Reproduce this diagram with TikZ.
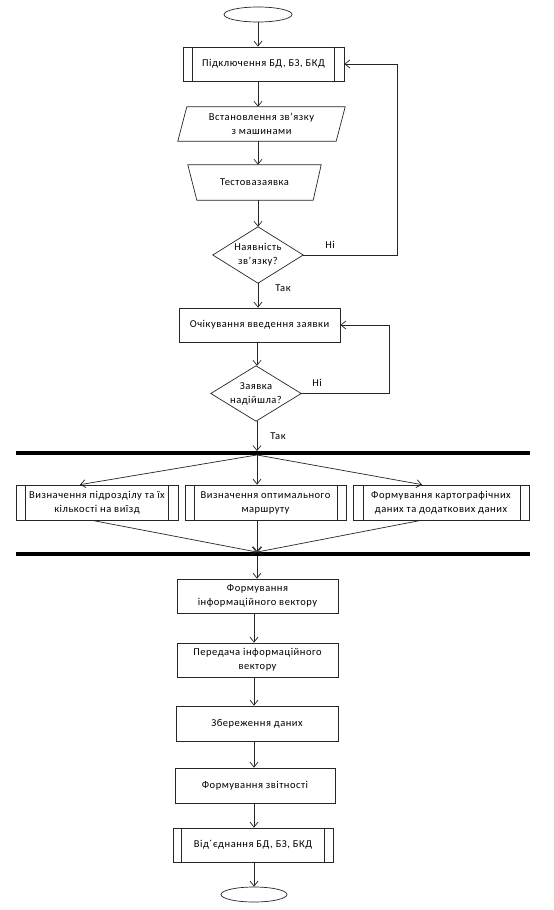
\documentclass[tikz,border=0pt]{standalone}
\usepackage{fontspec}
\setmainfont{Carlito}[LetterSpace=5]
\usetikzlibrary{arrows.meta,shapes.geometric,calc}
\begin{document}
\begin{tikzpicture}[x=1pt,y=-1pt,
  ln/.style={line width=0.7pt, draw=black!85},
  arr/.style={ln,-{Straight Barb[length=5pt,width=8pt,line width=0.7pt]}},
  tfont/.style={font=\fontsize{10.5}{14}\selectfont},
  box/.style={ln, draw, minimum width=#1, minimum height=34, inner sep=1pt, align=center, tfont},
  box/.default=161,
  shp/.style n args={2}{minimum width=#1, minimum height=#2, inner sep=0pt, align=center, tfont},
  bar/.style={fill=black, minimum width=514, minimum height=3.5, inner sep=0pt},
  lbl/.style={inner sep=0pt, tfont}
]
\useasboundingbox[fill=white] (0,0) rectangle (554,910);
\coordinate (ax) at (258,0);
\coordinate (ay) at (257,0);
\coordinate (az) at (254,0);

% top part
\node (e1) [ellipse, ln, draw, minimum width=68, minimum height=15, inner sep=0pt] at (258,14.5) {};
\node (b1) [box] at (263.5,64) {Підключення БД, БЗ, БКД};
\draw[ln] ([xshift=10pt]b1.north west) -- ([xshift=10pt]b1.south west);
\draw[ln] ([xshift=-10pt]b1.north east) -- ([xshift=-10pt]b1.south east);

\node (p) [shp={167}{34}] at (261.5,124) {Встановлення зв'язку\\з машинами};
\draw[ln] ([xshift=9pt]p.north west) -- (p.north east) -- ([xshift=-9pt]p.south east) -- (p.south west) -- cycle;

\node (t) [shp={133}{35}] at (254.5,182.5) {Тестовазаявка};
\draw[ln] (t.north west) -- (t.north east) -- ([xshift=-8pt]t.south east) -- ([xshift=9pt]t.south west) -- cycle;

\node (d1) [shp={90}{56}] at (258,255) {Наявність\\зв'язку?};
\draw[ln] (d1.north) -- (d1.east) -- (d1.south) -- (d1.west) -- cycle;

\node (o) [box] at (259.5,325) {Очікування введення заявки};

\node (d2) [shp={90}{55}] at (256,393.5) {Заявка\\надійшла?};
\draw[ln] (d2.north) -- (d2.east) -- (d2.south) -- (d2.west) -- cycle;

\node (n1) [lbl] at (330,245) {Ні};
\node (y1) [lbl] at (283,288) {Так};
\node (n2) [lbl] at (317,383) {Ні};
\node (y2) [lbl] at (278,436) {Так};

% bars
\node (bar1) [bar] at (273,453) {};
\node (bar2) [bar] at (273,554) {};

% parallel boxes
\node (L) [box=162, minimum height=35] at (97,502.5) {Визначення підрозділу та їх\\кількості на виїзд};
\draw[ln] ([xshift=10pt]L.north west) -- ([xshift=10pt]L.south west);
\draw[ln] ([xshift=-10pt]L.north east) -- ([xshift=-10pt]L.south east);
\node (M) [box=161, minimum height=35] at (265.5,502.5) {Визначення оптимального\\маршруту};
\draw[ln] ([xshift=10pt]M.north west) -- ([xshift=10pt]M.south west);
\draw[ln] ([xshift=-9pt]M.north east) -- ([xshift=-9pt]M.south east);
\node (R) [box=176, minimum height=35] at (441,502.5) {Формування картографічних\\даних та додаткових даних};
\draw[ln] ([xshift=11pt]R.north west) -- ([xshift=11pt]R.south west);
\draw[ln] ([xshift=-9pt]R.north east) -- ([xshift=-9pt]R.south east);

% lower part
\node (f1) [box] at (257.5,596) {Формування\\інформаційного вектору};
\node (f2) [box] at (257.5,660) {Передача інформаційного\\вектору};
\node (f3) [box=162, minimum height=35] at (257,723.5) {Збереження даних};
\node (f4) [box=160, minimum height=35] at (255,785.5) {Формування звітності};
\node (f5) [box=160] at (253,845) {Від´єднання БД, БЗ, БКД};
\draw[ln] ([xshift=9pt]f5.north west) -- ([xshift=9pt]f5.south west);
\draw[ln] ([xshift=-9pt]f5.north east) -- ([xshift=-9pt]f5.south east);
\node (e2) [ellipse, ln, draw, minimum width=66, minimum height=15, inner sep=0pt] at (254,894.5) {};

% connectors
\draw[arr] (e1.south -| ax) -- (ax |- b1.north);
\draw[arr] (b1.south -| ax) -- (ax |- p.north);
\draw[arr] (p.south -| ax) -- (ax |- t.north);
\draw[arr] (t.south -| ax) -- (d1.north);
\draw[arr] (d1.south) -- (d1.south |- o.north);
\draw[arr] (d1.east) -- ++(94,0) |- (b1.east);
\draw[arr] (o.south -| ay) -- (ay |- d2.north);
\draw[arr] (d2.east) -- ++(88,0) |- (o.east);
\draw[arr] (d2.south -| ay) -- (ay |- bar1.north);

\draw[arr] (bar1.south -| ay) -- ([xshift=-17pt]L.north);
\draw[arr] (bar1.south -| ay) -- (ay |- M.north);
\draw[arr] (bar1.south -| ay) -- ([xshift=-19pt]R.north);
\draw[arr] ([xshift=-5pt]L.south) -- (bar2.north -| ay);
\draw[arr] (ay |- M.south) -- (bar2.north -| ay);
\draw[arr] ([xshift=-20pt]R.south) -- (bar2.north -| ay);
\draw[arr] (bar2.south -| ay) -- (ay |- f1.north);

\draw[arr] (f1.south -| az) -- (az |- f2.north);
\draw[arr] (f2.south -| az) -- (az |- f3.north);
\draw[arr] (f3.south -| az) -- (az |- f4.north);
\draw[arr] (f4.south -| az) -- (az |- f5.north);
\draw[arr] (f5.south -| az) -- (az |- e2.north);
\end{tikzpicture}
\end{document}
